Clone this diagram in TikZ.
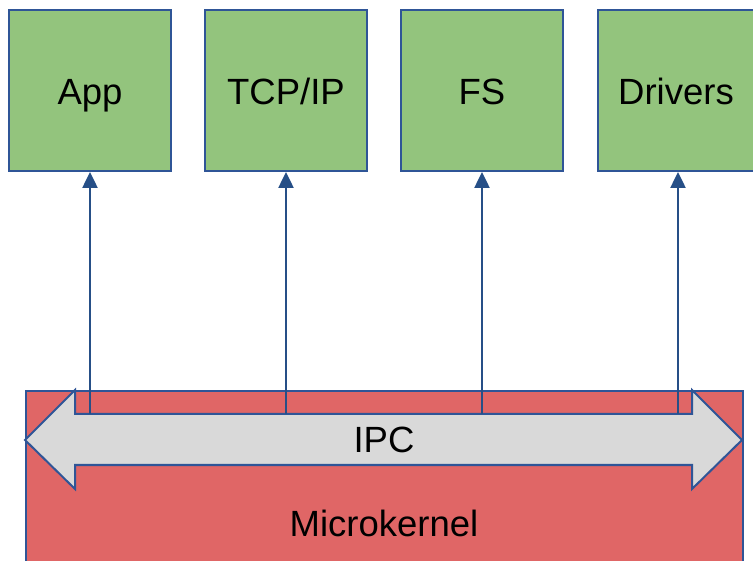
\documentclass[tikz,border=0pt]{standalone}
\usepackage{fontspec}
\setmainfont{Liberation Sans}
\usetikzlibrary{arrows.meta}
\definecolor{boxgreen}{HTML}{93C47D}
\definecolor{kernred}{HTML}{E06666}
\definecolor{ipcgray}{HTML}{D9D9D9}
\definecolor{edgeblue}{HTML}{2F5597}
\definecolor{arrowblue}{HTML}{264F87}
\tikzset{
  server/.style={draw=edgeblue, line width=2pt, fill=boxgreen, minimum width=162pt, minimum height=161pt, inner sep=0pt},
  ipcarrow/.style={draw=edgeblue, line width=2pt, fill=ipcgray},
  link/.style={draw=arrowblue, line width=2.5pt, -{Triangle[length=16pt,width=15pt]}},
  bigtext/.style={font=\fontsize{36.5}{40}\selectfont, text=black, inner sep=0pt, anchor=base}
}
\begin{document}
\begin{tikzpicture}[x=1pt,y=-1pt]
\useasboundingbox (0,0) rectangle (753,561);
\clip (0,0) rectangle (753,561);
% microkernel box
\node[draw=edgeblue, line width=2pt, fill=kernred, minimum width=717pt, minimum height=200pt, anchor=north west, inner sep=0pt] (kernel) at (25,390) {};
\node[bigtext] (mk) at (384,536) {Microkernel};
% IPC double arrow
\draw[ipcarrow] (25,440) -- (75,390) -- (75,414) -- (692,414) -- (692,390) -- (742,440) -- (692,489) -- (692,465) -- (75,465) -- (75,489) -- cycle;
\node[bigtext] (ipc) at (384,453) {IPC};
% servers
\node[server] (app) at (90,90.5) {};
\node[server] (tcp) at (286,90.5) {};
\node[server] (fs) at (482,90.5) {};
\node[server] (drv) at (679,90.5) {};
\node[bigtext] (appt) at (90,105) {App};
\node[bigtext] (tcpt) at (286,105) {TCP/IP};
\node[bigtext] (fst) at (482,105) {FS};
\node[bigtext] (drvt) at (676,105) {Drivers};
% connector start points on IPC shaft
\coordinate (s1) at (90,414);
\coordinate (s2) at (286,414);
\coordinate (s3) at (482,414);
\coordinate (s4) at (678,414);
\draw[link] (s1) -- (app.south);
\draw[link] (s2) -- (tcp.south);
\draw[link] (s3) -- (fs.south);
\draw[link] (s4) -- (drv.south -| s4);
\end{tikzpicture}
\end{document}
